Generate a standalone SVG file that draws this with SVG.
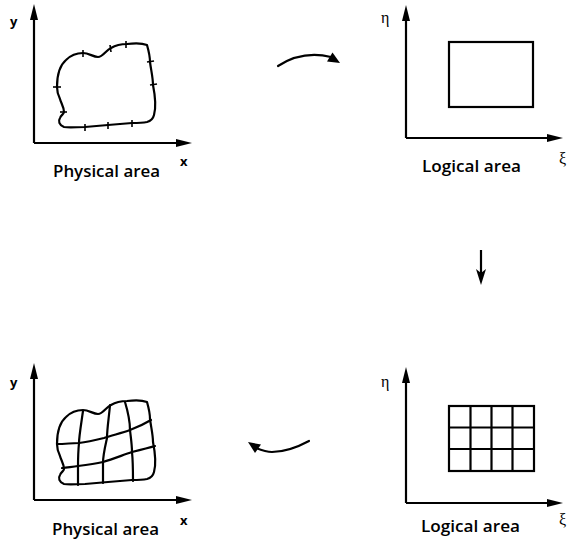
<svg xmlns="http://www.w3.org/2000/svg" width="567" height="546" viewBox="0 0 567 546">
<style>
.ax{stroke:#000;stroke-width:2.2;fill:none}
.cv{stroke:#000;stroke-width:2.2;fill:none;stroke-linejoin:round;stroke-linecap:round}
.gr{stroke:#000;stroke-width:2.2;fill:none}
.tk{stroke:#000;stroke-width:1.6}
.hd{fill:#000}
.cap{font-family:"Open Sans","Noto Sans",sans-serif;font-size:16px;font-weight:600;fill:#000}
.var{font-family:"Open Sans","Noto Sans",sans-serif;font-size:13px;font-weight:700;fill:#000}
.gk{font-family:"Liberation Serif","DejaVu Serif",serif;font-size:16px;fill:#000}
</style>
<defs>
<path id="blob" d="M57,87 C57,76 59,66 66,60 C71,55 77,53 83,53 C89,53 93,57 98,57 C103,57 106,50 111,48 C116,45 121,44 127,44 C135,43 142,43 147,45 C149,52 150,57 150,62 C151,70 153,78 153,85 C155,95 156,108 154,115 C153,119 151,121 147,122 C142,123 137,123 132,123 L108,125 L85,127 C77,127 70,128 64,127 C59,125 58,121 60,118 C61,115 64,114 64,112 C64,107 61,103 60,99 C58,95 57,91 57,87 Z"/>
</defs>

<g id="physical-boundary">
<line class="ax" x1="34" y1="143" x2="34" y2="16"/>
<polygon class="hd" points="34,4 30,20 38,20"/>
<line class="ax" x1="34" y1="143" x2="180" y2="143"/>
<polygon class="hd" points="192,143 176,139 176,147"/>
<use href="#blob" class="cv"/>
<g class="tk">
<line x1="83" y1="50" x2="83" y2="57"/>
<line x1="110" y1="45" x2="111" y2="52"/>
<line x1="126" y1="41" x2="126" y2="48"/>
<line x1="147" y1="62" x2="154" y2="61"/>
<line x1="150" y1="85" x2="157" y2="84"/>
<line x1="53" y1="87" x2="61" y2="87"/>
<line x1="60" y1="112" x2="67" y2="112"/>
<line x1="85" y1="124" x2="85" y2="131"/>
<line x1="108" y1="122" x2="108" y2="129"/>
<line x1="132" y1="120" x2="132" y2="127"/>
</g>
<text class="var" x="10" y="26">y</text>
<text class="var" x="180" y="166">x</text>
<text class="cap" x="53" y="177" textLength="107" lengthAdjust="spacingAndGlyphs">Physical area</text>
</g>

<g id="logical-boundary">
<line class="ax" x1="406" y1="138" x2="406" y2="17"/>
<polygon class="hd" points="406,5 402,21 410,21"/>
<line class="ax" x1="406" y1="138" x2="551" y2="138"/>
<polygon class="hd" points="563,138 547,134 547,142"/>
<rect class="gr" x="449" y="42" width="84" height="65"/>
<text class="gk" x="381" y="23">η</text>
<text class="gk" x="559" y="164">ξ</text>
<text class="cap" x="422" y="172" textLength="99" lengthAdjust="spacingAndGlyphs">Logical area</text>
</g>

<g id="logical-grid">
<line class="ax" x1="406" y1="503" x2="406" y2="379"/>
<polygon class="hd" points="406,367 402,383 410,383"/>
<line class="ax" x1="406" y1="503" x2="551" y2="503"/>
<polygon class="hd" points="563,503 547,499 547,507"/>
<rect class="gr" x="449" y="406" width="85" height="65"/>
<path class="gr" d="M470.5,406 V471 M491.5,406 V471 M512.5,406 V471 M449,427.5 H534 M449,449 H534"/>
<text class="gk" x="381" y="387">η</text>
<text class="gk" x="559" y="525">ξ</text>
<text class="cap" x="421" y="532" textLength="99" lengthAdjust="spacingAndGlyphs">Logical area</text>
</g>

<g id="physical-grid">
<line class="ax" x1="34" y1="500" x2="34" y2="375"/>
<polygon class="hd" points="34,363 30,379 38,379"/>
<line class="ax" x1="34" y1="500" x2="180" y2="500"/>
<polygon class="hd" points="192,500 176,496 176,504"/>
<g transform="translate(0,357)">
<use href="#blob" class="cv"/>
<path class="cv" d="M83,54 C81,68 79,80 79,86 C78,96 78,104 78,110 C78,118 78,124 78,128"/>
<path class="cv" d="M110,48 C109,60 107,72 107,81 C105,90 103,98 103,106 C103,114 103,120 103,126"/>
<path class="cv" d="M125,45 C128,55 130,65 130,73 C131,82 132,88 132,95 C133,105 133,115 133,124"/>
<path class="cv" d="M57,87 C65,87 72,86 79,86 C88,85 96,83 104,81 C113,78 122,76 130,73 C138,70 146,66 151,63"/>
<path class="cv" d="M62,111 C68,110 73,110 78,109 C87,108 95,107 103,105 C113,102 123,98 132,95 C140,93 148,91 155,89"/>
</g>
<text class="var" x="10" y="387">y</text>
<text class="var" x="180" y="525">x</text>
<text class="cap" x="52" y="535" textLength="107" lengthAdjust="spacingAndGlyphs">Physical area</text>
</g>

<g id="connectors">
<path class="cv" d="M278,66 C292,57 310,52 331,57"/>
<polygon class="hd" points="340,63 327,61.5 332.5,52.5"/>
<line class="ax" x1="481" y1="250" x2="481" y2="273"/>
<polygon class="hd" points="481,285 476,269 481,273 486,269"/>
<path class="cv" d="M309,441 C296,448 283,452 272,452 C266,452 261,450 256,448"/>
<polygon class="hd" points="248,442 261,444.5 255,453"/>
</g>
</svg>
